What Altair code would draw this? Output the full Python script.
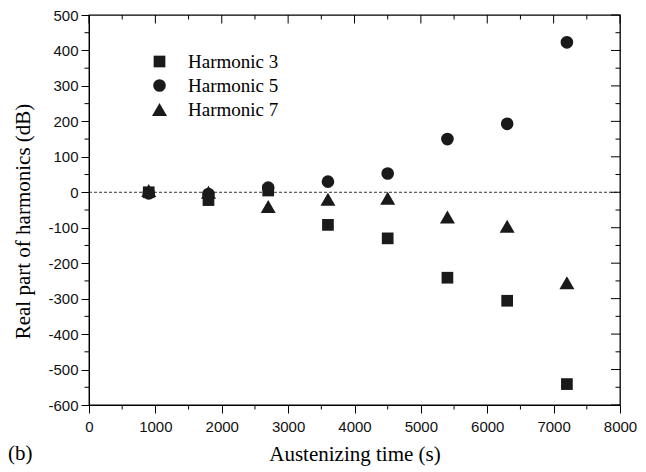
import altair as alt
import pandas as pd

# ---- data ----
times = [900, 1800, 2700, 3600, 4500, 5400, 6300, 7200]
harmonic3 = [0, -22, 5, -92, -130, -241, -306, -541]
harmonic5 = [-3, -5, 13, 30, 53, 150, 193, 423]
harmonic7 = [5, 0, -40, -20, -17, -70, -96, -255]
series_names = ["Harmonic 3", "Harmonic 5", "Harmonic 7"]

x_major = list(range(0, 8001, 1000))
x_minor = list(range(500, 8000, 1000))
y_major = list(range(-600, 501, 100))
y_minor = list(range(-550, 500, 100))
zero_line = [0]
panel_label = ["(b)"]

rows = []
for name, vals in zip(series_names, [harmonic3, harmonic5, harmonic7]):
    for t, v in zip(times, vals):
        rows.append({"t": t, "v": v, "series": name})
df = pd.DataFrame(rows)

W, H = 531, 390
INK = "#1a1a1a"
SERIF = "Liberation Serif"
SANS = "Liberation Sans"

xs = alt.Scale(domain=[0, 8000], nice=False, zero=False)
ys = alt.Scale(domain=[-600, 500], nice=False, zero=False)

x_axis = alt.Axis(
    title="Austenizing time (s)", values=x_major, labelExpr="'' + datum.value",
    labelFont=SANS, labelFontSize=15, labelColor="#111",
    labelFlush=False, labelOverlap=False, labelPadding=6,
    tickSize=8, tickColor="black", tickWidth=1,
    domainColor="black", grid=False,
    titleFont=SERIF, titleFontSize=21, titleFontWeight="normal",
    titleColor="black", titleY=55, titleBaseline="alphabetic")
y_axis = alt.Axis(
    title="Real part of harmonics (dB)", values=y_major, labelExpr="'' + datum.value",
    labelFont=SANS, labelFontSize=15, labelColor="#111",
    labelOverlap=False, labelPadding=3,
    tickSize=8, tickColor="black", tickWidth=1,
    domainColor="black", grid=False,
    titleFont=SERIF, titleFontSize=21, titleFontWeight="normal",
    titleColor="black", titleX=-56, titleY=206, titleBaseline="bottom",
    titleAlign="center")

legend = alt.Legend(
    title=None, orient="none", legendX=61, legendY=37,
    labelFont=SERIF, labelFontSize=19, labelColor="black",
    labelOffset=19, rowPadding=4, padding=0,
    symbolFillColor=INK, symbolStrokeColor=INK, symbolStrokeWidth=0,
)

points = alt.Chart(df).mark_point(filled=True, opacity=1, strokeWidth=0).encode(
    x=alt.X("t:Q", scale=xs, axis=x_axis),
    y=alt.Y("v:Q", scale=ys, axis=y_axis),
    shape=alt.Shape("series:N", scale=alt.Scale(
        domain=series_names, range=["square", "circle", "triangle-up"]), legend=legend),
    size=alt.Size("series:N", scale=alt.Scale(
        type="ordinal", domain=series_names, range=[137, 160, 225]), legend=legend),
    color=alt.value(INK),
)

zero = alt.Chart(pd.DataFrame({"v": zero_line})).mark_rule(
    color="black", strokeWidth=0.8, strokeDash=[3, 2]).encode(
    y=alt.Y("v:Q", scale=ys, axis=y_axis), x=alt.value(0), x2=alt.value(W))


def xticks(vals, y0, y1):
    return alt.Chart(pd.DataFrame({"t": vals})).mark_rule(
        color="black", strokeWidth=1).encode(
        x=alt.X("t:Q", scale=xs, axis=x_axis), y=alt.value(y0), y2=alt.value(y1))


def yticks(vals, x0, x1):
    return alt.Chart(pd.DataFrame({"v": vals})).mark_rule(
        color="black", strokeWidth=1).encode(
        y=alt.Y("v:Q", scale=ys, axis=y_axis), x=alt.value(x0), x2=alt.value(x1))


tick_layers = [
    xticks(x_minor, H, H + 4.5),        # bottom minor (outward)
    xticks(x_major, 0, 8.5),            # top major (inward)
    xticks(x_minor, 0, 4.5),            # top minor (inward)
    yticks(y_minor, 0, -4.5),           # left minor (outward)
    yticks(y_major, W, W - 9),          # right major (inward)
    yticks(y_minor, W, W - 4.5),        # right minor (inward)
]

label = alt.Chart(pd.DataFrame({"lab": panel_label})).mark_text(
    align="left", baseline="alphabetic", font=SERIF, fontSize=21, color="black").encode(
    x=alt.value(-81), y=alt.value(445), text="lab:N")

chart = alt.layer(zero, *tick_layers, points, label).properties(
    width=W, height=H,
    autosize=alt.AutoSizeParams(type="none"),
    padding={"left": 89, "top": 15, "right": 26, "bottom": 67},
    background="white",
).configure_view(stroke="black", strokeWidth=1.3)

chart.save("out.html", embed_options={"renderer": "svg", "actions": False})
